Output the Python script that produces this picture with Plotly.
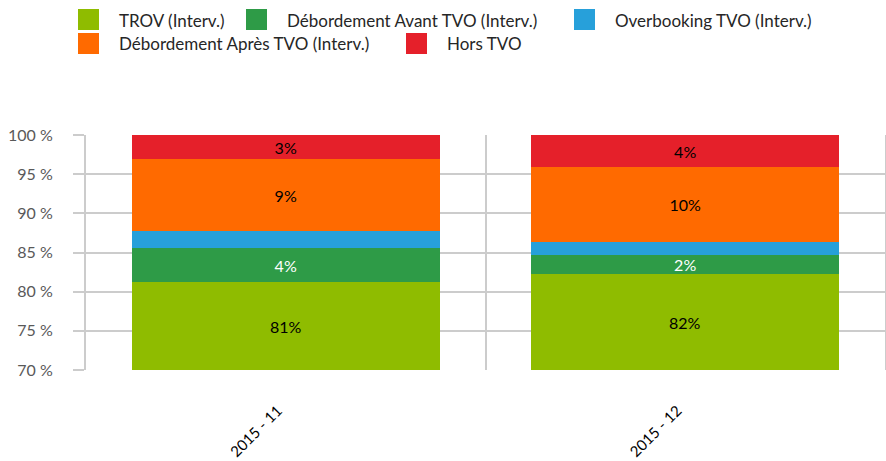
import plotly.graph_objects as go

categories = ["2015 - 11", "2015 - 12"]
series_names = ["TROV (Interv.)", "Débordement Avant TVO (Interv.)", "Overbooking TVO (Interv.)",
                "Débordement Après TVO (Interv.)", "Hors TVO"]
trov = [81.2, 82.25]
deb_avant = [4.4, 2.4]
overbooking = [2.1, 1.7]
deb_apres = [9.2, 9.55]
hors = [3.1, 4.1]
series_values = [trov, deb_avant, overbooking, deb_apres, hors]
colors = ["#8FBC00", "#2E9B47", "#27A0DA", "#FF6A00", "#E5202A"]
text_colors = ["#000000", "#FFFFFF", "#000000", "#000000", "#000000"]
show_text = [False, True, False, True, True]
y_ticks = [70, 75, 80, 85, 90, 95, 100]
y_tick_labels = ["70 %", "75 %", "80 %", "85 %", "90 %", "95 %", "100 %"]

FONT = "Lato"
W, H = 886, 461
L, R, T, B = 86, 1, 135, 91
pw, ph = W - L - R, H - T - B

fig = go.Figure()
for name, vals, col, tcol, st in zip(series_names, series_values, colors, text_colors, show_text):
    fig.add_trace(go.Bar(
        x=categories, y=vals, name=name, marker=dict(color=col, line=dict(width=0)),
        text=[f"{round(v):.0f}%" for v in vals] if st else None,
        textposition="inside", insidetextanchor="middle", textangle=0,
        constraintext="none",
        textfont=dict(color=tcol, size=16, family=FONT),
        showlegend=False, hoverinfo="name+y",
    ))

annotations = []
# labels of the first series, centred on its visible part (axis starts at 70)
for c, v in zip(categories, trov):
    annotations.append(dict(x=c, y=(y_ticks[0] + v) / 2, xref="x", yref="y",
                            text=f"{round(v):.0f}%", showarrow=False,
                            font=dict(family=FONT, size=16, color="#000000")))

# manual legend (pixel positions converted to paper coords)
def px_x(px):
    return (px - L) / pw
def px_y(py):
    return (H - B - py) / ph

SW = 21
legend_items = [
    (78, 9, 117, 20),
    (246, 9, 285, 20),
    (574, 9, 613, 20),
    (78, 33, 117, 43),
    (406, 33, 445, 43),
]
shapes = []
for (sx, sy, tx, ty), name, col in zip(legend_items, series_names, colors):
    shapes.append(dict(type="rect", xref="paper", yref="paper",
                       x0=px_x(sx), x1=px_x(sx + SW), y0=px_y(sy + SW), y1=px_y(sy),
                       fillcolor=col, line=dict(width=0)))
    annotations.append(dict(xref="paper", yref="paper", x=px_x(tx), y=px_y(ty),
                            text=name, showarrow=False, xanchor="left", yanchor="middle",
                            font=dict(family=FONT, size=17, color="#262626")))

fig.update_layout(
    width=W, height=H,
    margin=dict(l=L, r=R, t=T, b=B, autoexpand=False),
    barmode="stack", bargap=0.23,
    plot_bgcolor="white", paper_bgcolor="white",
    font=dict(family=FONT, size=15, color="#595959"),
    shapes=shapes, annotations=annotations,
    xaxis=dict(
        type="category", tickson="boundaries", showgrid=True, gridcolor="#CCCCCC", gridwidth=2,
        ticks="", tickangle=-45, ticklabelstandoff=28, ticklabelshift=-8, automargin=False,
        tickfont=dict(family=FONT, size=15, color="#000000"),
        showline=False, zeroline=False,
    ),
    yaxis=dict(
        range=[70, 100], tickvals=y_ticks, ticktext=y_tick_labels,
        showgrid=True, gridcolor="#CCCCCC", gridwidth=2, automargin=False,
        ticks="outside", ticklen=11, tickwidth=2, tickcolor="#CCCCCC",
        ticklabelstandoff=17,
        tickfont=dict(family=FONT, size=16, color="#595959"),
        showline=True, mirror=True, linecolor="#CCCCCC", linewidth=2,
        zeroline=False,
    ),
)

fig.write_html("out.html", config={"displayModeBar": False},
               post_script="document.body.style.margin='0';")
